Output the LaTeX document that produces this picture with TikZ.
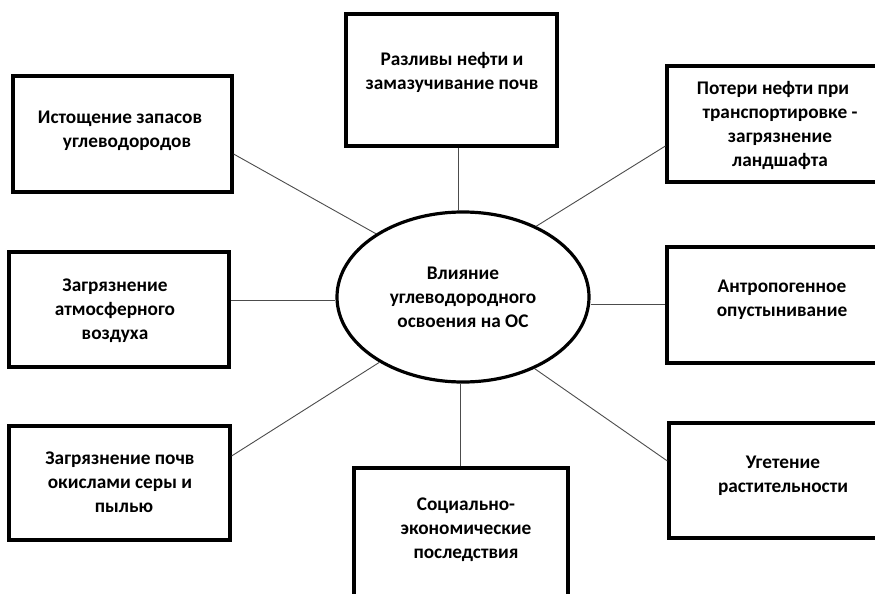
\documentclass[tikz,border=0pt]{standalone}
\usepackage{fontspec}
\setmainfont{Carlito}
\usetikzlibrary{shapes.geometric}
\begin{document}
\begin{tikzpicture}[x=1pt,y=-1pt,
  box/.style={draw=black, line width=3.2pt, rectangle, inner sep=0pt},
  txt/.style={align=center, font=\bfseries\fontsize{19.3}{24}\selectfont, inner sep=0pt, text=black},
  oval/.style={draw=black, line width=3.2pt, ellipse, inner sep=0pt, minimum width=252pt, minimum height=170pt, align=center, font=\bfseries\fontsize{19.3}{24}\selectfont, text=black},
  link/.style={draw=black!70, line width=0.9pt}]
\clip (0,0) rectangle (875,594);
\fill[white] (0,0) rectangle (875,594);
% boxes
\node[box, minimum width=211pt, minimum height=132pt] (b1) at (451.5,80) {};
\node[box, minimum width=219pt, minimum height=116pt] (b2) at (122.5,134) {};
\node[box, minimum width=233pt, minimum height=116pt] (b3) at (783.5,124) {};
\node[box, minimum width=220pt, minimum height=115pt] (b4) at (119,309.5) {};
\node[box, minimum width=233pt, minimum height=116pt] (b5) at (783.5,305) {};
\node[box, minimum width=221pt, minimum height=114pt] (b6) at (119.5,483) {};
\node[box, minimum width=214pt, minimum height=152pt] (b7) at (461,544) {};
\node[box, minimum width=231pt, minimum height=115pt] (b8) at (784.5,480.5) {};
% ellipse
\node[oval] (e) at (463,297) {Влияние\\углеводородного\\освоения на ОС};
% texts
\node[txt] (t1) at (452,72) {Разливы нефти и\\замазучивание почв};
\node[txt] (t2) at (120,131) {Истощение запасов\\\hspace*{14pt}углеводородов};
\node[txt] (t3) at (780,125) {Потери нефти при\hspace*{14pt}\\транспортировке -\\загрязнение\\ландшафта};
\node[txt] (t4) at (115,311) {Загрязнение\\атмосферного\\воздуха};
\node[txt] (t5) at (782,300) {Антропогенное\\опустынивание};
\node[txt] (t6) at (120,482) {Загрязнение почв\\окислами серы и\\\hspace*{8pt}пылью};
\node[txt] (t7) at (466,530) {Социально-\\экономические\\последствия};
\node[txt] (t8) at (783,476) {Угетение\\растительности};
% connectors
\draw[link] ([xshift=6.5pt]b1.south) -- ([xshift=-5pt]e.north);
\draw[link] ([yshift=-20pt]b2.east) -- (e.144.7);
\draw[link] ([yshift=-22pt]b3.west) -- (e.44.2);
\draw[link] ([yshift=9.5pt]b4.east) -- ([yshift=-3pt]e.west);
\draw[link] ([yshift=-7pt]e.east) -- ([yshift=1pt]b5.west);
\draw[link] ([yshift=27pt]b6.east) -- (e.218.2);
\draw[link] ([xshift=-1pt]b7.north) -- ([xshift=-3pt]e.south);
\draw[link] ([yshift=19.5pt]b8.west) -- (e.315);
\end{tikzpicture}
\end{document}
